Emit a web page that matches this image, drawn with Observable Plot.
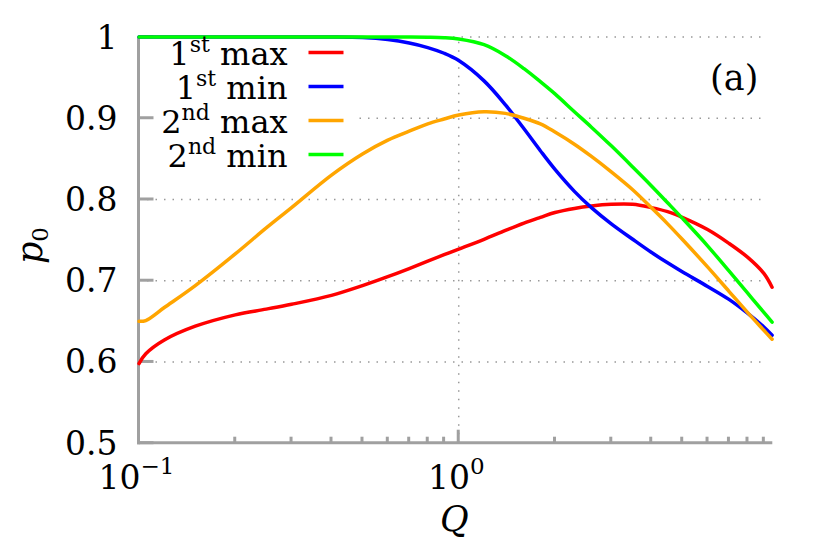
<!DOCTYPE html>
<html><head><meta charset="utf-8">
<script src="https://cdn.jsdelivr.net/npm/d3@7"></script>
<script src="https://cdn.jsdelivr.net/npm/@observablehq/plot@0.6"></script>
<style>body{margin:0;background:#fff}</style>
</head><body><div id="chart"></div>
<script>
// ---- data ----
const Q = [0.1, 0.105, 0.12, 0.15, 0.2, 0.25, 0.3, 0.4, 0.5, 0.6, 0.7, 0.8, 0.9, 1, 1.2, 1.4, 1.6, 1.8, 2, 2.3, 2.6, 3, 3.5, 4, 4.5, 5, 6, 7, 8, 9, 9.55];
const firstMax  = [0.598, 0.610, 0.627, 0.644, 0.658, 0.665, 0.671, 0.682, 0.694, 0.705, 0.715, 0.724, 0.732, 0.739, 0.751, 0.762, 0.771, 0.778, 0.784, 0.789, 0.792, 0.794, 0.794, 0.790, 0.785, 0.778, 0.763, 0.746, 0.729, 0.709, 0.692];
const firstMin  = [1, 1, 1, 1, 1, 1, 1, 1, 0.9993, 0.9968, 0.9926, 0.987, 0.980, 0.971, 0.946, 0.9165, 0.887, 0.860, 0.837, 0.810, 0.790, 0.770, 0.751, 0.735, 0.722, 0.711, 0.693, 0.677, 0.660, 0.643, 0.633];
const secondMax = [0.650, 0.651, 0.667, 0.694, 0.733, 0.765, 0.790, 0.830, 0.856, 0.873, 0.884, 0.893, 0.899, 0.904, 0.908, 0.906, 0.900, 0.893, 0.883, 0.868, 0.853, 0.834, 0.812, 0.790, 0.770, 0.751, 0.717, 0.687, 0.661, 0.639, 0.628];
const secondMin = [1, 1, 1, 1, 1, 1, 1, 1, 1, 1, 1, 0.9998, 0.9992, 0.9975, 0.9905, 0.977, 0.961, 0.945, 0.930, 0.908, 0.889, 0.866, 0.840, 0.817, 0.796, 0.777, 0.743, 0.712, 0.685, 0.661, 0.649];

const seriesBase = ["1", "1", "2", "2"];
const seriesSup  = ["st", "st", "nd", "nd"];
const seriesRest = ["max", "min", "max", "min"];
const seriesVals = [firstMax, firstMin, secondMax, secondMin];
const seriesColors = ["#ff0000", "#0000ff", "#ffa500", "#00ff00"];

const xDomain = [0.1, 9.6];
const yDomain = [0.5, 1];
const yTicks = [0.5, 0.6, 0.7, 0.8, 0.9, 1];
const yTickLabels = ["0.5", "0.6", "0.7", "0.8", "0.9", "1"];
const xMajor = [0.1, 1];
const xMajorExp = ["\u22121", "0"];
const xMinor = [0.2, 0.3, 0.4, 0.5, 0.6, 0.7, 0.8, 0.9, 2, 3, 4, 5, 6, 7, 8, 9];
const gridY = [0.6, 0.7, 0.8, 0.9, 1];
const gridX = [1];
const gridEnd = 9.2;
const panelLabel = "(a)";

const F = "'DejaVu Serif', serif";
const AX = "#a0a0a0";

const rows = seriesVals.map(vals => Q.map((q, i) => ({Q: q, p: vals[i]})));

function legendBox(index, {x, y}) {
  const g = d3.create("svg:g");
  g.append("rect").attr("x", x(xDomain[0]) + 2).attr("y", y(yDomain[1]) + 3)
    .attr("width", 218).attr("height", 132).attr("fill", "#fff");
  return g.node();
}

function decor(index, {x, y}) {
  const g = d3.create("svg:g");
  const xl = x(xDomain[0]), xr = x(xDomain[1]), yb = y(yDomain[0]), yt = y(yDomain[1]);
  const ln = (x1, y1, x2, y2) => g.append("line").attr("x1", x1).attr("y1", y1).attr("x2", x2).attr("y2", y2)
    .attr("stroke", AX).attr("stroke-width", 3);
  ln(xl, yb + 1.5, xl, yt);
  ln(xl - 1.5, yb, xr, yb);
  for (const v of yTicks) ln(xl, y(v), xl + 15, y(v));
  for (const v of xMinor) ln(x(v), yb, x(v), yb - 6);
  for (const v of xMajor) ln(x(v), yb, x(v), yb - 13);
  const t = g.append("g").attr("font-family", F).attr("font-size", 33).attr("fill", "#000");
  yTicks.forEach((v, i) => t.append("text").attr("x", xl - 21).attr("y", y(v) + 12)
    .attr("text-anchor", "end").text(yTickLabels[i]));
  xMajor.forEach((v, i) => {
    const tx = t.append("text").attr("x", x(v) - 2).attr("y", yb + 46).attr("text-anchor", "middle");
    tx.append("tspan").text("10");
    tx.append("tspan").attr("font-size", 23).attr("dy", -15).text(xMajorExp[i]);
  });
  t.append("text").attr("x", x(1) - 4).attr("y", yb + 88).attr("text-anchor", "middle")
    .attr("font-style", "italic").attr("font-size", 35).text("Q");
  const py = t.append("text").attr("transform", `translate(${xl - 97},${(yb + yt) / 2 + 6}) rotate(-90)`)
    .attr("x", 0).attr("y", 0).attr("text-anchor", "middle");
  py.append("tspan").attr("font-style", "italic").attr("font-size", 35).text("p");
  py.append("tspan").attr("font-size", 23).attr("dy", 6).text("0");
  t.append("text").attr("x", xr - 14).attr("y", yt + 53).attr("text-anchor", "end").attr("font-size", 35).text(panelLabel);
  return g.node();
}

function legend(index, {x, y}) {
  const g = d3.create("svg:g").attr("font-family", F).attr("font-size", 32);
  const xl = x(xDomain[0]), yt = y(yDomain[1]);
  seriesColors.forEach((c, i) => {
    const cy = yt + 16 + 34 * i;
    const tx = g.append("text").attr("x", xl + 149).attr("y", cy + 12).attr("text-anchor", "end").attr("fill", "#000");
    tx.append("tspan").text(seriesBase[i]);
    tx.append("tspan").attr("font-size", 22).attr("dy", -13).text(seriesSup[i]);
    tx.append("tspan").attr("dy", 13).text("\u00a0" + seriesRest[i]);
    g.append("line").attr("x1", xl + 170).attr("x2", xl + 205).attr("y1", cy).attr("y2", cy)
      .attr("stroke", c).attr("stroke-width", 3.5);
  });
  return g.node();
}

const chart = Plot.plot({
  width: 830, height: 554,
  marginLeft: 138.5, marginRight: 57.7, marginTop: 36.5, marginBottom: 111.3,
  x: {type: "log", domain: xDomain, axis: null},
  y: {domain: yDomain, axis: null},
  style: {background: "white", overflow: "visible"},
  marks: [
    Plot.ruleY(gridY, {x1: xDomain[0], x2: gridEnd, stroke: "#999", strokeWidth: 1.5, strokeDasharray: "1.5,7"}),
    Plot.ruleX(gridX, {y1: yDomain[0], y2: yDomain[1], stroke: "#999", strokeWidth: 1.5, strokeDasharray: "1.5,7"}),
    legendBox,
    decor,
    ...rows.map((r, i) => Plot.line(r, {x: "Q", y: "p", stroke: seriesColors[i], strokeWidth: 3.5,
      curve: "catmull-rom", strokeLinecap: "round", strokeLinejoin: "round"})),
    legend
  ]
});
document.getElementById("chart").append(chart);
</script>
</body></html>
